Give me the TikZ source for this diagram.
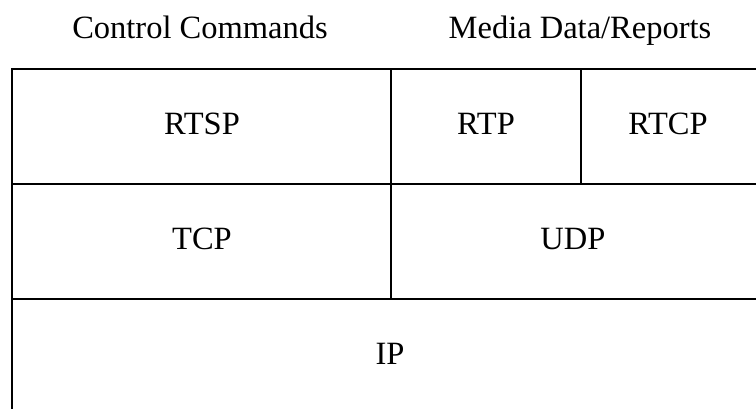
\documentclass[tikz,border=0pt]{standalone}
\usepackage{fontspec}
\setmainfont{Liberation Serif}
\tikzset{
  lbl/.style={anchor=base, inner sep=0pt, font=\fontsize{32.5}{38}\selectfont},
  rule/.style={line width=2.6pt, black}
}
\begin{document}
\begin{tikzpicture}[x=1pt,y=-1pt]
\useasboundingbox (0,0) rectangle (756,408);
% grid coordinates
\coordinate (tl) at (12,69);
\coordinate (tr) at (760,69);
\coordinate (bl) at (12,412);
\coordinate (m1l) at (12,184);
\coordinate (m1r) at (760,184);
\coordinate (m2l) at (12,299);
\coordinate (m2r) at (760,299);
\coordinate (v1t) at (391,69);
\coordinate (v1b) at (391,299);
\coordinate (v2t) at (581,69);
\coordinate (v2b) at (581,184);
\draw[rule] (bl) -- (tl) -- (tr);
\draw[rule] (m1l) -- (m1r);
\draw[rule] (m2l) -- (m2r);
\draw[rule] (v1t) -- (v1b);
\draw[rule] (v2t) -- (v2b);
% labels
\node[lbl] (cc) at (200,38) {Control Commands};
\node[lbl] (md) at (580,38) {Media Data/Reports};
\node[lbl] (rtsp) at (202,134) {RTSP};
\node[lbl] (rtp) at (486,134) {RTP};
\node[lbl] (rtcp) at (668,134) {RTCP};
\node[lbl] (tcp) at (202,249) {TCP};
\node[lbl] (udp) at (573,249) {UDP};
\node[lbl] (ip) at (390,364) {IP};
\end{tikzpicture}
\end{document}
